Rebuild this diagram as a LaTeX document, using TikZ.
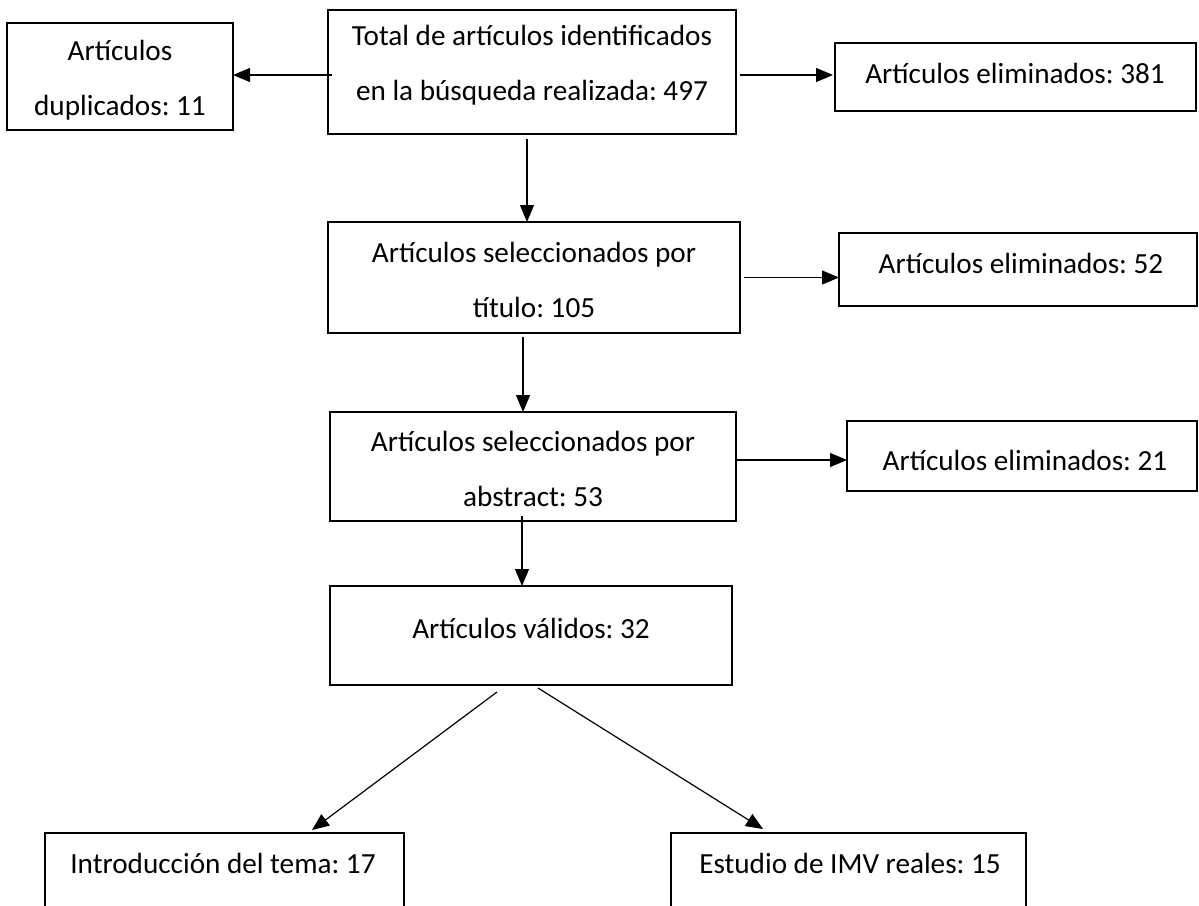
\documentclass[tikz,border=0pt]{standalone}
\usepackage{fontspec}
\setmainfont{Carlito}
\usetikzlibrary{arrows.meta}
\frenchspacing
\begin{document}
\begin{tikzpicture}[x=0.5pt,y=-0.5pt,
  box/.style={draw, line width=0.7pt, inner sep=0pt, outer sep=0pt},
  txt/.style={align=center, inner sep=0pt, font=\fontsize{14.6}{27.5}\selectfont},
  arr/.style={-{Triangle[length=8.5pt,width=7pt]}, line width=0.6pt}]
\clip (0,0) rectangle (1199,905);
\fill[white] (0,0) rectangle (1199,905);
% boxes
\node[box, minimum width=113pt, minimum height=53.5pt] (dup) at (120,76.5) {};
\node[box, minimum width=204pt, minimum height=62pt] (top) at (532,72) {};
\node[box, minimum width=180.5pt, minimum height=34pt] (e381) at (1015.5,77) {};
\node[box, minimum width=206pt, minimum height=55.5pt] (b2) at (534,277.5) {};
\node[box, minimum width=179pt, minimum height=36.5pt] (e52) at (1018,269.5) {};
\node[box, minimum width=203pt, minimum height=54.5pt] (b3) at (533,466.5) {};
\node[box, minimum width=175pt, minimum height=35pt] (e21) at (1022,456) {};
\node[box, minimum width=201pt, minimum height=49.5pt] (b4) at (531,635.5) {};
\node[box, minimum width=179.5pt, minimum height=43.5pt] (bl) at (224.5,876.5) {};
\node[box, minimum width=177.5pt, minimum height=43.5pt] (br) at (848.5,876.5) {};
% texts
\node[txt] (tdup) at (120,80) {Artículos\\duplicados: 11};
\node[txt] (ttop) at (532,65.5) {Total de artículos identificados\\en la búsqueda realizada: 497};
\node[txt] (t381) at (1015,73) {Artículos eliminados: 381};
\node[txt] (t2) at (534,280) {Artículos seleccionados por\\título: 105};
\node[txt] (t52) at (1021,263) {Artículos eliminados: 52};
\node[txt] (t3) at (533,468.5) {Artículos seleccionados por\\abstract: 53};
\node[txt] (t21) at (1025,460) {Artículos eliminados: 21};
\node[txt] (t4) at (531,628) {Artículos válidos: 32};
\node[txt] (tbl) at (223,863) {Introducción del tema: 17};
\node[txt] (tbr) at (850,863) {Estudio de IMV reales: 15};
% connectors
\draw[arr] ([xshift=2pt,yshift=-1.5pt]top.west) -- ([yshift=0.75pt]dup.east);
\draw[arr] ([xshift=2pt,yshift=-1.5pt]top.east) -- ([xshift=-1pt,yshift=1pt]e381.west);
\draw[arr] ([xshift=-2.5pt,yshift=-2.5pt]top.south) -- ([xshift=-3.5pt]b2.north);
\draw[arr] ([xshift=2pt]b2.east) -- ([yshift=-4pt]e52.west);
\draw[arr] ([xshift=-5.5pt,yshift=-2pt]b2.south) -- ([xshift=-5pt]b3.north);
\draw[arr] ([yshift=3.25pt]b3.east) -- ([yshift=-2pt]e21.west);
\draw[arr] ([xshift=-5.5pt,yshift=2.5pt]b3.south) -- ([xshift=-4.5pt]b4.north);
\draw[arr] ([xshift=-17pt,yshift=-3.5pt]b4.south) -- ([xshift=43.75pt,yshift=1.5pt]bl.north);
\draw[arr] ([xshift=3.5pt,yshift=-1.5pt]b4.south) -- ([xshift=-42.75pt,yshift=2pt]br.north);
\end{tikzpicture}
\end{document}
